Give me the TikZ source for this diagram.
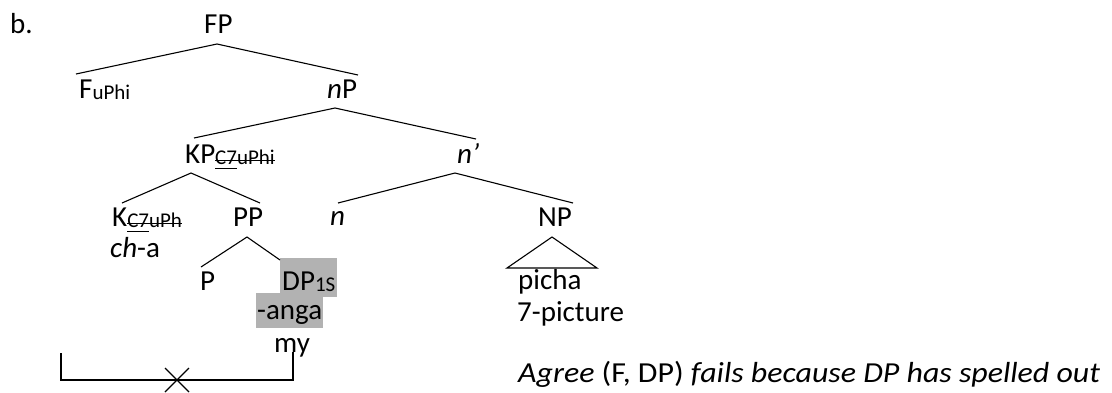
\documentclass[tikz,border=0pt]{standalone}
\usepackage{fontspec}
\setmainfont{Carlito}
\newfontfamily\agreefont{Carlito}[FakeStretch=1.1]
\newcommand{\subf}{\fontsize{21}{21}\selectfont}
\newcommand{\subplain}[1]{\raisebox{-1.5pt}{\subf #1}}
\newcommand{\subsk}[2]{\raisebox{-1.5pt}{\setbox0\hbox{\subf #1#2}\setbox2\hbox{\subf #1}%
  \rlap{\rule[4pt]{\wd0}{1pt}}\rlap{\rule[-4.5pt]{\wd2}{1.3pt}}\box0}}
\begin{document}
\begin{tikzpicture}[x=1pt,y=-1pt,
  lbl/.style={inner sep=0pt, anchor=base west, font=\fontsize{29}{31}\selectfont},
  edge/.style={line width=1.1pt},
  hl/.style={fill=gray!60}]
\useasboundingbox (0,0) rectangle (1112,392);
% highlights
\fill[hl] (280,258) rectangle (337,297);
\fill[hl] (256,293) rectangle (323,328);
% labels
\node[lbl] (b) at (10,33) {b.};
\node[lbl] (FP) at (204,33) {FP};
\node[lbl] (F) at (79,98) {F\subplain{uPhi}};
\node[lbl] (nP) at (327,98) {\textit{n}P};
\node[lbl] (KP) at (185,163) {KP\subsk{C7}{uPhi}};
\node[lbl] (nbar) at (457,163) {\textit{n’}};
\node[lbl] (K) at (112,226) {K\subsk{C7}{uPh}};
\node[lbl] (PP) at (233,226) {PP};
\node[lbl] (n) at (330,225) {\textit{n}};
\node[lbl] (NP) at (538,226) {NP};
\node[lbl] (cha) at (110,257) {\textit{ch}-a};
\node[lbl] (P) at (200,290) {P};
\node[lbl] (DP) at (282,290) {DP\subplain{1S}};
\node[lbl] (anga) at (257,319) {-anga};
\node[lbl] (my) at (274,352) {my};
\node[lbl] (picha) at (518,289) {picha};
\node[lbl] (pic) at (517,321) {7-picture};
\node[lbl] (agree) at (518,382) {\agreefont\textit{Agree} (F, DP) \textit{fails because DP has spelled out}};
% branch points
\coordinate (fpA) at (217,44);  \coordinate (fpL) at (76,74);   \coordinate (fpR) at (358,75);
\coordinate (npA) at (335,108); \coordinate (npL) at (194,138); \coordinate (npR) at (476,139);
\coordinate (kpA) at (191,173); \coordinate (kpL) at (122,203); \coordinate (kpR) at (260,203);
\coordinate (nbA) at (455,173); \coordinate (nbL) at (338,203); \coordinate (nbR) at (573,203);
\coordinate (ppA) at (247,237); \coordinate (ppL) at (201,267); \coordinate (ppR) at (280,260);
\coordinate (tA) at (552,237);  \coordinate (tL) at (507,268);  \coordinate (tR) at (597,268);
\draw[edge] (fpL) -- (fpA) -- (fpR);
\draw[edge] (npL) -- (npA) -- (npR);
\draw[edge] (kpL) -- (kpA) -- (kpR);
\draw[edge] (nbL) -- (nbA) -- (nbR);
\draw[edge] (ppL) -- (ppA) -- (ppR);
\draw[edge] (tL) -- (tA) -- (tR) -- cycle;
% bracket
\coordinate (b1) at (61,353); \coordinate (b2) at (61,380);
\coordinate (b3) at (293,380); \coordinate (b4) at (293,352);
\draw[edge] (b1) -- (b2) -- (b3) -- (b4);
\coordinate (xc) at (177,380);
\draw[edge] ([shift={(-12,-12)}]xc) -- ([shift={(12,12)}]xc);
\draw[edge] ([shift={(12,-12)}]xc) -- ([shift={(-12,12)}]xc);
\end{tikzpicture}
\end{document}
